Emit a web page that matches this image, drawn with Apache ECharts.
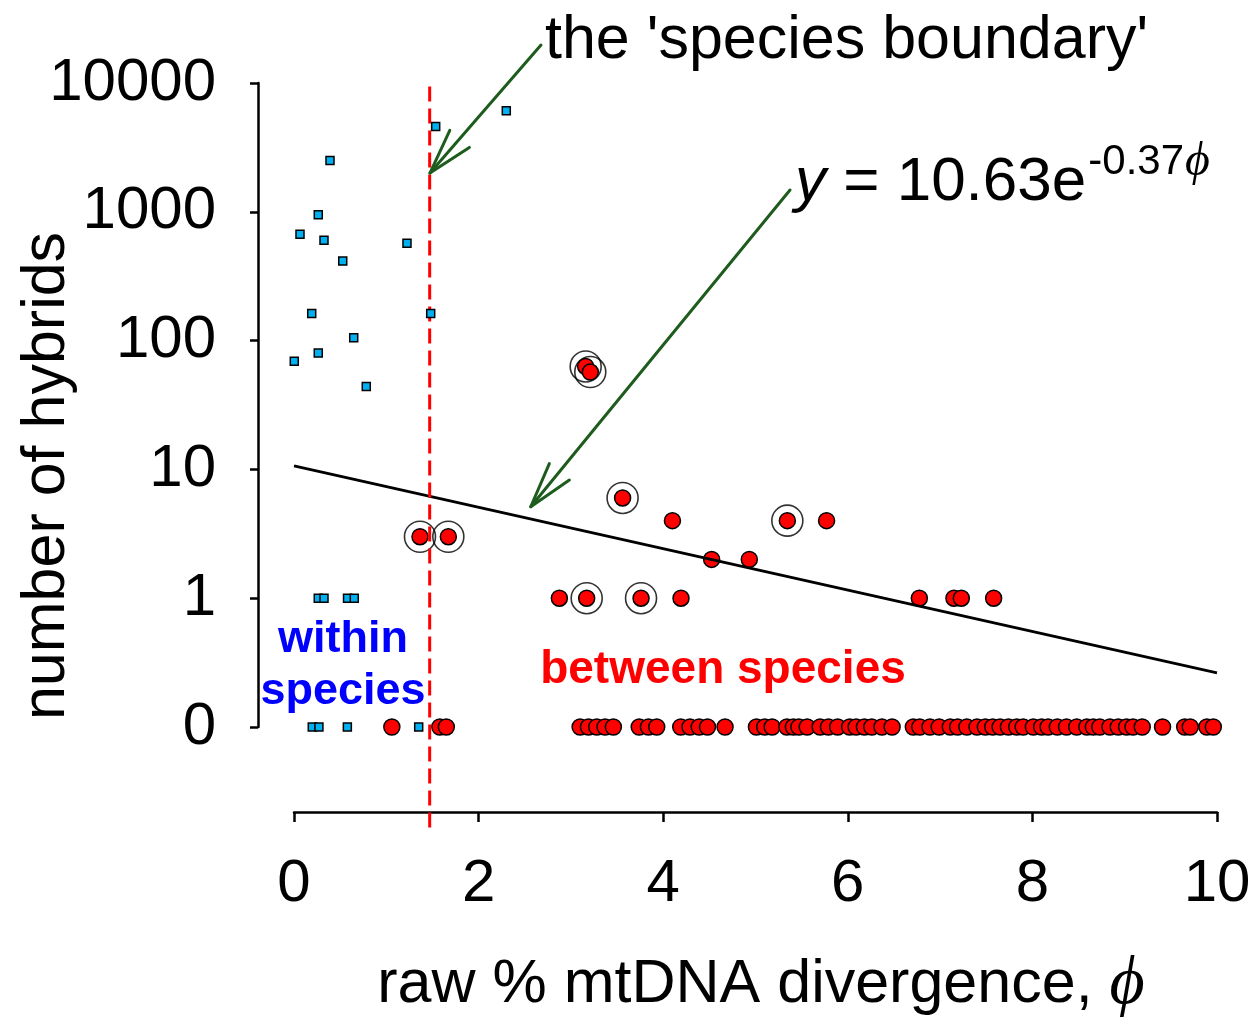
<!DOCTYPE html>
<html><head><meta charset="utf-8">
<script src="https://cdn.jsdelivr.net/npm/echarts@6/dist/echarts.min.js"></script>
<style>html,body{margin:0;padding:0;background:#fff}#c{width:1254px;height:1021px}</style>
</head><body><div id="c"></div>
<script>
// ---- data (x = raw % mtDNA divergence, y = number of hybrids) ----
const xTicks = [0, 2, 4, 6, 8, 10];
const yTickLabels = ['0', '1', '10', '100', '1000', '10000'];

const withinX = [2.30, 1.535, 0.39, 0.263, 0.065, 0.325, 1.224, 0.528, 0.192, 1.481, 0.647, 0.263, 0.003, 0.783,
                 0.263, 0.325, 0.58, 0.653, 0.198, 0.27, 0.578, 1.351];
const withinY = [6100, 4600, 2500, 950, 670, 600, 570, 415, 162, 162, 105, 80, 69, 44,
                 1, 1, 1, 1, 0, 0, 0, 0];

const betweenX = [3.16, 3.21, 3.56, 4.10, 5.345, 5.77, 1.365, 1.672, 4.525, 4.933,
                  2.875, 3.171, 3.76, 4.193, 6.775, 7.15, 7.23, 7.58,
                  1.06, 1.58, 1.65,
                  3.10, 3.19, 3.28, 3.37, 3.46, 3.74, 3.84, 3.93, 4.19, 4.29, 4.39, 4.48, 4.67,
                  5.01, 5.10, 5.18, 5.34, 5.41, 5.47, 5.56, 5.70, 5.79, 5.89, 6.02, 6.09, 6.18, 6.26, 6.37, 6.48,
                  6.71, 6.78, 6.89, 6.99, 7.11, 7.19, 7.29, 7.40, 7.49, 7.57, 7.65, 7.74, 7.83, 7.90,
                  8.01, 8.10, 8.17, 8.27, 8.37, 8.48, 8.59, 8.66, 8.73, 8.84, 8.93, 9.02, 9.09, 9.19,
                  9.41, 9.65, 9.71, 9.89, 9.96];
const betweenY = [63, 57, 6, 4, 4, 4, 3, 3, 2, 2,
                  1, 1, 1, 1, 1, 1, 1, 1,
                  0, 0, 0,
                  0, 0, 0, 0, 0, 0, 0, 0, 0, 0, 0, 0, 0,
                  0, 0, 0, 0, 0, 0, 0, 0, 0, 0, 0, 0, 0, 0, 0, 0,
                  0, 0, 0, 0, 0, 0, 0, 0, 0, 0, 0, 0, 0, 0,
                  0, 0, 0, 0, 0, 0, 0, 0, 0, 0, 0, 0, 0, 0,
                  0, 0, 0, 0, 0];

// circled (highlighted) between-species pairs
const ringedX = [3.16, 3.21, 3.56, 5.345, 1.365, 1.672, 3.171, 3.76];
const ringedY = [63, 57, 6, 4, 3, 3, 1, 1];

// fitted curve y = 10.63 e^(-0.37 phi), end points
const fitX = [0, 10];
const fitY = [10.63, 0.263];

// 'species boundary' line
const boundaryX = 1.47;
const boundarySpan = [-0.78, 5.02]; // in axis units (decades above 0)

// annotation arrows [x, hybrids]
const arrowBoundary = { tail: [2.676, 19700], tip: [1.473, 2000] };
const arrowFit = { tail: [5.374, 1477], tip: [2.565, 5.13] };

// ---- scale: 0 -> 0, 1 -> 1, 10 -> 2, ... ----
function pos(c) { return c <= 0 ? 0 : Math.log10(c) + 1; }

const FONT = '"Liberation Sans", Arial, sans-serif';
const SERIF = '"Liberation Serif", "DejaVu Serif", serif';

const chart = echarts.init(document.getElementById('c'), null, { renderer: 'canvas' });

const option = {
  backgroundColor: '#ffffff',
  animation: false,
  grid: { left: 294, right: 37, top: 83, bottom: 294, containLabel: false, outerBoundsMode: 'none' },
  xAxis: {
    type: 'value', min: xTicks[0], max: xTicks[xTicks.length - 1], interval: 2, offset: 85,
    splitLine: { show: false },
    axisLine: { show: true, onZero: false, lineStyle: { color: '#000', width: 2.5 } },
    axisTick: { show: true, length: 10, lineStyle: { color: '#000', width: 2.5 } },
    axisLabel: { fontFamily: FONT, fontSize: 60, color: '#000', margin: 42,
                 formatter: v => String(v) }
  },
  yAxis: {
    type: 'value', min: 0, max: yTickLabels.length - 1, interval: 1, offset: 36,
    splitLine: { show: false },
    axisLine: { show: true, onZero: false, lineStyle: { color: '#000', width: 2.5 } },
    axisTick: { show: true, length: 8, lineStyle: { color: '#000', width: 2.5 } },
    axisLabel: { fontFamily: FONT, fontSize: 60, color: '#000', margin: 42,
                 formatter: v => yTickLabels[Math.round(v)] }
  },
  series: [
    {
      name: 'rings', type: 'scatter', z: 2, clip: false, silent: true,
      symbol: 'circle', symbolSize: 31,
      data: ringedX.map((x, i) => [x, pos(ringedY[i])]),
      itemStyle: { color: 'rgba(0,0,0,0)', borderColor: '#000', borderWidth: 1.6 }
    },
    {
      name: 'between species', type: 'scatter', z: 3, clip: false,
      symbol: 'circle', symbolSize: 16,
      data: betweenX.map((x, i) => [x, pos(betweenY[i])]),
      itemStyle: { color: '#ff0000', borderColor: '#000', borderWidth: 1.5, opacity: 1 }
    },
    {
      name: 'fit', type: 'line', z: 4, clip: false, symbol: 'none', silent: true,
      data: fitX.map((x, i) => [x, pos(fitY[i])]),
      lineStyle: { color: '#000', width: 2.8 }
    },
    {
      name: 'boundary', type: 'line', z: 5, clip: false, symbol: 'none', silent: true,
      data: boundarySpan.map(v => [boundaryX, v]),
      lineStyle: { color: '#ff0000', width: 3, type: [15, 7] }
    },
    {
      name: 'within species', type: 'scatter', z: 6, clip: false,
      symbol: 'rect', symbolSize: 8,
      data: withinX.map((x, i) => [x, pos(withinY[i])]),
      itemStyle: { color: '#00b0f0', borderColor: '#000', borderWidth: 1.5, opacity: 1 }
    }
  ]
};
chart.setOption(option);

function px(p) { return chart.convertToPixel({ gridIndex: 0 }, [p[0], pos(p[1])]); }
function arrowGraphics(a) {
  const t = px(a.tip), s = px(a.tail);
  const dx = s[0] - t[0], dy = s[1] - t[1];
  const L = Math.hypot(dx, dy), ux = dx / L, uy = dy / L;
  const ang = 16 * Math.PI / 180, wl = 47;
  const rot = (k) => [t[0] + wl * (ux * Math.cos(k) - uy * Math.sin(k)),
                      t[1] + wl * (ux * Math.sin(k) + uy * Math.cos(k))];
  const st = { stroke: '#1d5c1d', lineWidth: 3, fill: null, lineCap: 'round', lineJoin: 'round' };
  return [
    { type: 'polyline', z: 10, shape: { points: [s, t] }, style: st },
    { type: 'polyline', z: 10, shape: { points: [rot(ang), t, rot(-ang)] }, style: st }
  ];
}

const measureCtx = document.createElement('canvas').getContext('2d');
function textW(text, font) { measureCtx.font = font; return measureCtx.measureText(text).width; }

const txt = (x, y, text, font, fill, align, extra) => Object.assign({
  type: 'text', x: x, y: y, z: 11,
  style: { text: text, font: font, fill: fill, align: align || 'left', verticalAlign: 'middle' }
}, extra || {});

// equation pieces laid out left to right
const eqY = 'italic 62px ' + FONT, eqMain = '62px ' + FONT, eqSup = '42px ' + FONT, eqPhi = 'italic 48px ' + SERIF;
const eqX0 = 795;
const eqX1 = eqX0 + textW('y', eqY);
const eqX2 = eqX1 + textW(' = 10.63e', eqMain) + 2;
const eqX3 = eqX2 + textW('-0.37', eqSup) + 1;

chart.setOption({
  graphic: [].concat(
    arrowGraphics(arrowBoundary),
    arrowGraphics(arrowFit),
    [
      txt(545, 41, "the 'species boundary'", '61px ' + FONT, '#000'),
      txt(eqX0, 183, 'y', eqY, '#000'),
      txt(eqX1, 183, ' = 10.63e', eqMain, '#000'),
      txt(eqX2, 162, '-0.37', eqSup, '#000'),
      txt(eqX3, 162, 'ϕ', eqPhi, '#000'),
      txt(343, 640, 'within', 'bold 45px ' + FONT, '#0000ff', 'center'),
      txt(343, 692, 'species', 'bold 45px ' + FONT, '#0000ff', 'center'),
      txt(723, 670, 'between species', 'bold 46px ' + FONT, '#ff0000', 'center'),
      txt(47, 476, 'number of hybrids', '61px ' + FONT, '#000', 'center', { rotation: Math.PI / 2 }),
      {
        type: 'text', x: 761, y: 985, z: 11,
        style: {
          text: '{a|raw % mtDNA divergence, }{p|ϕ}',
          align: 'center', verticalAlign: 'middle',
          rich: {
            a: { font: '61px ' + FONT, fill: '#000' },
            p: { font: 'italic 68px ' + SERIF, fill: '#000' }
          }
        }
      }
    ]
  )
});
</script></body></html>
